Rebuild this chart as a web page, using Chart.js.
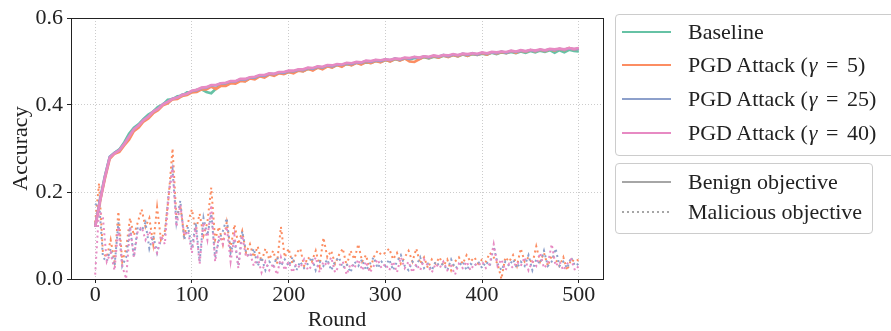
<!DOCTYPE html>
<html>
<head>
<meta charset="utf-8">
<script src="https://cdn.jsdelivr.net/npm/chart.js@4.4.0/dist/chart.umd.min.js"></script>
<style>
  html, body { margin: 0; padding: 0; background: #fff; overflow: hidden; }
  #wrap { position: relative; width: 891px; height: 331px; }
  #myChart { position: absolute; left: 0; top: 0; }
  .box { position: absolute; border: 1px solid #cccccc; border-radius: 4px; background: #fff; }
  .swatch { position: absolute; width: 49px; height: 2px; }
  .label {
    position: absolute; height: 26px; line-height: 26px; white-space: nowrap;
    font: 22px "Liberation Serif", serif; color: #222;
  }
  .label .eq { margin: 0 3px; }
  .label .par { margin-right: 1px; }
</style>
</head>
<body>
<div id="wrap">
  <canvas id="myChart" width="891" height="331"></canvas>
  <div class="box" style="left:615px;top:14px;width:300px;height:140px"></div>
  <div class="box" style="left:615px;top:163px;width:256px;height:69px"></div>
</div>
<script>
/* globals Chart:false */

// benign accuracy, one value every 5 rounds (0..500)
const benignStep = 5;
const baselineBenign = [
  0.12, 0.18, 0.235, 0.28, 0.29, 0.298, 0.314, 0.334, 0.348, 0.356,
  0.368, 0.378, 0.385, 0.396, 0.401, 0.412, 0.413, 0.42, 0.421, 0.429,
  0.43, 0.435, 0.436, 0.43, 0.427, 0.438, 0.447, 0.445, 0.452, 0.451,
  0.457, 0.455, 0.462, 0.461, 0.467, 0.465, 0.471, 0.469, 0.474, 0.472,
  0.476, 0.475, 0.48, 0.478, 0.483, 0.481, 0.486, 0.484, 0.489, 0.487,
  0.492, 0.49, 0.494, 0.492, 0.497, 0.495, 0.498, 0.497, 0.501, 0.499,
  0.503, 0.501, 0.505, 0.503, 0.507, 0.504, 0.508, 0.506, 0.51, 0.507,
  0.511, 0.509, 0.513, 0.511, 0.515, 0.512, 0.516, 0.513, 0.517, 0.515,
  0.518, 0.516, 0.52, 0.517, 0.521, 0.519, 0.522, 0.519, 0.523, 0.52,
  0.524, 0.521, 0.525, 0.522, 0.526, 0.52, 0.526, 0.521, 0.527, 0.524,
  0.523,
];
const pgd5Benign = [
  0.12, 0.178, 0.23, 0.276, 0.288, 0.292, 0.307, 0.32, 0.34, 0.348,
  0.362, 0.369, 0.381, 0.388, 0.399, 0.404, 0.413, 0.414, 0.421, 0.423,
  0.429, 0.43, 0.436, 0.436, 0.442, 0.437, 0.444, 0.444, 0.45, 0.449,
  0.455, 0.454, 0.461, 0.459, 0.466, 0.463, 0.47, 0.467, 0.473, 0.471,
  0.476, 0.473, 0.479, 0.477, 0.483, 0.479, 0.486, 0.482, 0.489, 0.486,
  0.492, 0.488, 0.495, 0.491, 0.497, 0.493, 0.499, 0.496, 0.501, 0.498,
  0.504, 0.5, 0.506, 0.502, 0.507, 0.5, 0.499, 0.505, 0.511, 0.508,
  0.512, 0.509, 0.514, 0.51, 0.515, 0.512, 0.517, 0.513, 0.518, 0.515,
  0.519, 0.516, 0.521, 0.518, 0.522, 0.519, 0.524, 0.52, 0.525, 0.522,
  0.526, 0.523, 0.527, 0.524, 0.528, 0.525, 0.529, 0.526, 0.531, 0.527,
  0.53,
];
const pgd25Benign = [
  0.12, 0.184, 0.236, 0.281, 0.29, 0.297, 0.311, 0.329, 0.345, 0.354,
  0.366, 0.374, 0.385, 0.392, 0.402, 0.408, 0.415, 0.417, 0.424, 0.426,
  0.432, 0.434, 0.439, 0.44, 0.445, 0.445, 0.45, 0.45, 0.454, 0.454,
  0.459, 0.458, 0.463, 0.463, 0.468, 0.467, 0.472, 0.471, 0.475, 0.474,
  0.478, 0.477, 0.481, 0.48, 0.485, 0.483, 0.488, 0.486, 0.491, 0.489,
  0.493, 0.492, 0.496, 0.494, 0.498, 0.497, 0.501, 0.499, 0.503, 0.501,
  0.505, 0.503, 0.507, 0.504, 0.508, 0.506, 0.51, 0.508, 0.512, 0.509,
  0.513, 0.511, 0.515, 0.512, 0.516, 0.514, 0.518, 0.515, 0.519, 0.516,
  0.52, 0.518, 0.521, 0.519, 0.523, 0.52, 0.524, 0.522, 0.525, 0.523,
  0.526, 0.524, 0.527, 0.525, 0.528, 0.526, 0.529, 0.527, 0.53, 0.528,
  0.529,
];
const pgd40Benign = [
  0.12, 0.179, 0.233, 0.279, 0.289, 0.296, 0.31, 0.327, 0.344, 0.353,
  0.365, 0.373, 0.385, 0.391, 0.401, 0.407, 0.414, 0.417, 0.423, 0.426,
  0.433, 0.435, 0.44, 0.441, 0.446, 0.446, 0.45, 0.451, 0.455, 0.455,
  0.46, 0.46, 0.464, 0.465, 0.469, 0.469, 0.473, 0.472, 0.476, 0.476,
  0.479, 0.479, 0.482, 0.482, 0.486, 0.485, 0.489, 0.488, 0.492, 0.491,
  0.494, 0.493, 0.497, 0.496, 0.499, 0.498, 0.502, 0.501, 0.504, 0.503,
  0.505, 0.504, 0.507, 0.506, 0.509, 0.508, 0.511, 0.509, 0.512, 0.511,
  0.514, 0.512, 0.515, 0.514, 0.517, 0.515, 0.518, 0.517, 0.519, 0.518,
  0.521, 0.519, 0.522, 0.521, 0.523, 0.522, 0.525, 0.523, 0.526, 0.524,
  0.527, 0.525, 0.528, 0.526, 0.529, 0.528, 0.53, 0.528, 0.531, 0.529,
  0.531,
];

// malicious objective accuracy, one value every 4 rounds (0..500)
const maliciousStep = 4;
const pgd5Malicious = [
  0.13, 0.22, 0.06, 0.05, 0.09, 0.04, 0.155, 0.04, 0.07, 0.14,
  0.10, 0.13, 0.16, 0.12, 0.14, 0.08, 0.165, 0.09, 0.11, 0.19,
  0.30, 0.14, 0.17, 0.10, 0.13, 0.16, 0.11, 0.15, 0.10, 0.13,
  0.21, 0.09, 0.12, 0.08, 0.13, 0.07, 0.125, 0.08, 0.11, 0.06,
  0.08, 0.05, 0.075, 0.04, 0.07, 0.045, 0.065, 0.035, 0.12, 0.05,
  0.07, 0.035, 0.06, 0.07, 0.03, 0.05, 0.04, 0.065, 0.03, 0.095,
  0.05, 0.065, 0.035, 0.055, 0.07, 0.03, 0.065, 0.045, 0.08, 0.04,
  0.055, 0.02, 0.05, 0.065, 0.055, 0.06, 0.07, 0.045, 0.06, 0.035,
  0.05, 0.065, 0.04, 0.07, 0.035, 0.05, 0.025, 0.045, 0.035, 0.05,
  0.03, 0.045, 0.02, 0.04, 0.05, 0.035, 0.055, 0.04, 0.05, 0.035,
  0.045, 0.04, 0.06, 0.05, 0.035, 0.0, 0.05, 0.04, 0.055, 0.03,
  0.07, 0.04, 0.05, 0.035, 0.075, 0.04, 0.06, 0.03, 0.055, 0.045,
  0.03, 0.05, 0.02, 0.045, 0.04, 0.045,
];
const pgd25Malicious = [
  0.17, 0.18, 0.05, 0.04, 0.07, 0.03, 0.13, 0.03, 0.05, 0.12,
  0.05, 0.12, 0.11, 0.13, 0.07, 0.10, 0.06, 0.09, 0.10, 0.20,
  0.25, 0.13, 0.18, 0.09, 0.12, 0.07, 0.13, 0.04, 0.14, 0.10,
  0.15, 0.05, 0.09, 0.11, 0.14, 0.06, 0.09, 0.03, 0.11, 0.06,
  0.05, 0.07, 0.03, 0.05, 0.02, 0.04, 0.03, 0.05, 0.03, 0.045,
  0.03, 0.05, 0.02, 0.04, 0.025, 0.035, 0.05, 0.02, 0.04, 0.03,
  0.045, 0.02, 0.04, 0.05, 0.025, 0.035, 0.015, 0.04, 0.03, 0.045,
  0.02, 0.035, 0.05, 0.025, 0.04, 0.03, 0.045, 0.02, 0.04, 0.055,
  0.03, 0.02, 0.04, 0.03, 0.05, 0.025, 0.035, 0.02, 0.04, 0.03,
  0.035, 0.02, 0.045, 0.025, 0.03, 0.04, 0.02, 0.035, 0.03, 0.04,
  0.025, 0.04, 0.03, 0.075, 0.035, 0.02, 0.04, 0.03, 0.045, 0.025,
  0.04, 0.03, 0.055, 0.02, 0.045, 0.035, 0.065, 0.03, 0.04, 0.07,
  0.03, 0.04, 0.025, 0.05, 0.03, 0.035,
];
const pgd40Malicious = [
  0.01, 0.16, 0.14, 0.04, 0.06, 0.02, 0.12, 0.03, 0.0, 0.12,
  0.05, 0.11, 0.12, 0.09, 0.11, 0.08, 0.06, 0.10, 0.08, 0.19,
  0.26, 0.12, 0.17, 0.10, 0.11, 0.06, 0.12, 0.035, 0.13, 0.09,
  0.17, 0.04, 0.10, 0.08, 0.12, 0.04, 0.10, 0.025, 0.10, 0.05,
  0.06, 0.03, 0.05, 0.015, 0.04, 0.02, 0.035, 0.01, 0.05, 0.02,
  0.04, 0.015, 0.035, 0.025, 0.045, 0.02, 0.03, 0.05, 0.015, 0.04,
  0.03, 0.05, 0.015, 0.03, 0.04, 0.01, 0.035, 0.025, 0.045, 0.02,
  0.04, 0.015, 0.03, 0.045, 0.025, 0.035, 0.02, 0.04, 0.015, 0.05,
  0.025, 0.04, 0.015, 0.035, 0.02, 0.045, 0.03, 0.015, 0.035, 0.025,
  0.04, 0.02, 0.03, 0.01, 0.035, 0.025, 0.04, 0.02, 0.035, 0.03,
  0.04, 0.025, 0.035, 0.08, 0.03, 0.045, 0.02, 0.035, 0.025, 0.04,
  0.03, 0.05, 0.02, 0.04, 0.03, 0.06, 0.025, 0.035, 0.08, 0.03,
  0.04, 0.02, 0.035, 0.045, 0.02, 0.03,
];

const xTicks = [0, 100, 200, 300, 400, 500];
const yTicks = [0, 0.2, 0.4, 0.6];
const seriesNames = ["Baseline", "PGD Attack (γ = 5)", "PGD Attack (γ = 25)", "PGD Attack (γ = 40)"];
const objectiveNames = ["Benign objective", "Malicious objective"];
const colors = ["#66c2a5", "#fc8d62", "#8da0cb", "#e78ac3"];

const benign = [baselineBenign, pgd5Benign, pgd25Benign, pgd40Benign];
const malicious = [null, pgd5Malicious, pgd25Malicious, pgd40Malicious];

const toPoints = (values, step) => values.map((v, i) => ({ x: i * step, y: v }));

const datasets = [];
let drawIndex = 0;
benign.forEach((values, k) => {
  datasets.push({
    data: toPoints(values, benignStep),
    borderColor: colors[k],
    borderWidth: 2.6,
    order: 20 - drawIndex++,
  });
  if (malicious[k]) {
    datasets.push({
      data: toPoints(malicious[k], maliciousStep),
      borderColor: colors[k],
      borderWidth: 2,
      borderDash: [2, 3.3],
      order: 20 - drawIndex++,
    });
  }
});

const font = { family: "'Liberation Serif', serif", size: 22 };

// top and right spines, drawn over the lines like matplotlib
const frame = {
  id: "frame",
  afterDatasetsDraw(chart) {
    const { ctx, chartArea: a } = chart;
    ctx.save();
    ctx.strokeStyle = "#222";
    ctx.lineWidth = 1;
    ctx.strokeRect(a.left + 0.5, a.top + 0.5, a.right - a.left, a.bottom - a.top);
    ctx.restore();
  },
};

const ctx = document.getElementById("myChart");
// eslint-disable-next-line no-unused-vars
const myChart = new Chart(ctx, {
  type: "line",
  data: { datasets },
  plugins: [frame],
  options: {
    responsive: false,
    animation: false,
    events: [],
    layout: { padding: { top: 18, right: 288, left: 0, bottom: 0 } },
    elements: { point: { radius: 0 }, line: { tension: 0 } },
    plugins: { legend: { display: false }, tooltip: { enabled: false } },
    scales: {
      x: {
        type: "linear",
        min: -25,
        max: 525,
        afterBuildTicks: (s) => { s.ticks = xTicks.map((v) => ({ value: v })); },
        afterFit: (s) => { s.height = 52; },
        ticks: { font: { ...font, lineHeight: 1.15 }, color: "#222", padding: 0, maxRotation: 0 },
        grid: { color: "#cccccc", lineWidth: 1, tickLength: 4, tickColor: "#222", tickBorderDash: [] },
        border: { color: "#222", width: 1, dash: [1, 2] },
        title: { display: true, text: "Round", font: { ...font, lineHeight: 1.0 }, color: "#222", padding: 0 },
      },
      y: {
        min: 0,
        max: 0.6,
        afterBuildTicks: (s) => { s.ticks = yTicks.map((v) => ({ value: v })); },
        afterFit: (s) => { s.width = 71; },
        ticks: { font, color: "#222", padding: 4, callback: (v) => v.toFixed(1) },
        grid: { color: "#cccccc", lineWidth: 1, tickLength: 4, tickColor: "#222", tickBorderDash: [] },
        border: { color: "#222", width: 1, dash: [1, 2] },
        title: { display: true, text: "Accuracy", font, color: "#222", padding: { top: 8, bottom: 0 } },
      },
    },
  },
});

// legend boxes as html text
const wrap = document.getElementById("wrap");
const addEntry = (y, swatchCss, text) => {
  const sw = document.createElement("div");
  sw.className = "swatch";
  sw.style.cssText = `left:622px;top:${y - 1}px;` + swatchCss;
  wrap.appendChild(sw);
  const lb = document.createElement("div");
  lb.className = "label";
  lb.style.cssText = `left:688px;top:${y - 13}px`;
  lb.innerHTML = text
    .replace("(", '<span class="par">(</span>')
    .replace("γ", "<i>γ</i>")
    .replace(" = ", '<span class="eq"> = </span>');
  wrap.appendChild(lb);
};
[32, 65, 99, 133].forEach((y, k) => addEntry(y, `background:${colors[k]}`, seriesNames[k]));
addEntry(182, "background:#a6a6a6", objectiveNames[0]);
addEntry(212, "background:repeating-linear-gradient(90deg,#a6a6a6 0 2px,transparent 2px 5px)", objectiveNames[1]);
</script>
</body>
</html>
